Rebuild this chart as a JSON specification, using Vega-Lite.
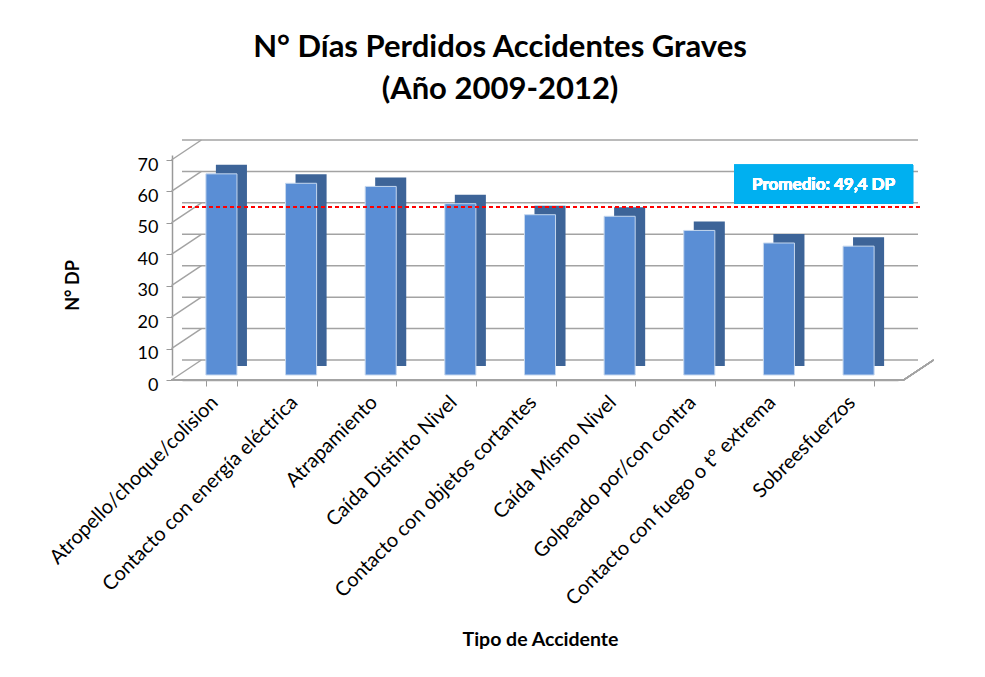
{
  "$schema": "https://vega.github.io/schema/vega-lite/v6.json",
  "autosize": {"type": "none"},
  "padding": {"left": 182, "top": 155, "right": 87, "bottom": 302},
  "width": 716,
  "height": 220,
  "background": "white",
  "config": {"view": {"stroke": null}, "font": "Lato"},
  "title": {
    "text": ["N° Días Perdidos Accidentes Graves", "(Año 2009-2012)"],
    "font": "Lato", "fontSize": 31, "fontWeight": "bold", "color": "#000000",
    "anchor": "middle", "dx": -40, "offset": 33, "lineHeight": 42
  },
  "data": {"values": [
    {"tipo": "Atropello/choque/colision", "dias": 64},
    {"tipo": "Contacto con energía eléctrica", "dias": 61},
    {"tipo": "Atrapamiento", "dias": 60},
    {"tipo": "Caída Distinto Nivel", "dias": 54.5},
    {"tipo": "Contacto con objetos cortantes", "dias": 51},
    {"tipo": "Caída Mismo Nivel", "dias": 50.5},
    {"tipo": "Golpeado por/con contra", "dias": 46},
    {"tipo": "Contacto con fuego o t°  extrema", "dias": 42},
    {"tipo": "Sobreesfuerzos", "dias": 41}
  ]},
  "layer": [
    {
      "data": {"values": [{"v": 0}, {"v": 10}, {"v": 20}, {"v": 30}, {"v": 40}, {"v": 50}, {"v": 60}, {"v": 70}]},
      "mark": {"type": "rule", "color": "#A3A3A3", "strokeWidth": 1.5, "yOffset": -15, "xOffset": 20, "x2Offset": 35},
      "encoding": {
        "y": {
          "field": "v", "type": "quantitative",
          "scale": {"domain": [0, 70], "nice": false},
          "axis": {
            "title": "N° DP", "titleFontSize": 18, "titleFontWeight": "bold", "titleColor": "#000",
            "titleX": -99, "titleY": 130, "titleAlign": "center", "titleBaseline": "middle",
            "values": [0, 10, 20, 30, 40, 50, 60, 70], "tickCount": 8, "grid": false, "labelOverlap": false,
            "labelFontSize": 18, "labelColor": "#000", "labelPadding": 8,
            "labelOffset": 5, "tickOffset": 5, "offset": 10,
            "domainColor": "#999999", "tickColor": "#999999", "tickSize": 6, "domainWidth": 1.5
          }
        }
      }
    },
    {
      "data": {"values": [{"v": 0}, {"v": 10}, {"v": 20}, {"v": 30}, {"v": 40}, {"v": 50}, {"v": 60}, {"v": 70}]},
      "mark": {"type": "rule", "color": "#A3A3A3", "strokeWidth": 1.5, "xOffset": -50, "x2Offset": -20, "yOffset": 5, "y2Offset": -15},
      "encoding": {
        "x": {"datum": "Atropello/choque/colision"},
        "x2": {"datum": "Atropello/choque/colision"},
        "y": {"field": "v", "type": "quantitative"},
        "y2": {"field": "v"}
      }
    },
    {
      "mark": {"type": "rule", "color": "#A3A3A3", "strokeWidth": 1.5, "xOffset": 45, "x2Offset": 75, "yOffset": 5, "y2Offset": -15},
      "encoding": {
        "x": {"datum": "Sobreesfuerzos"},
        "x2": {"datum": "Sobreesfuerzos"},
        "y": {"datum": 0},
        "y2": {"datum": 0}
      }
    },
    {
      "mark": {"type": "rule", "color": "#A3A3A3", "strokeWidth": 1.5, "xOffset": -50, "x2Offset": 45, "yOffset": 5, "y2Offset": 5},
      "encoding": {
        "x": {"datum": "Atropello/choque/colision"},
        "x2": {"datum": "Sobreesfuerzos"},
        "y": {"datum": 0},
        "y2": {"datum": 0}
      }
    },
    {
      "mark": {"type": "bar", "color": "#3D6498", "xOffset": 10, "yOffset": -9, "y2Offset": -9},
      "encoding": {
        "x": {"field": "tipo", "type": "nominal", "sort": null},
        "y": {"field": "dias", "type": "quantitative"}
      }
    },
    {
      "mark": {"type": "bar", "color": "#5A8ED5", "stroke": "#C5D7EE", "strokeWidth": 1},
      "encoding": {
        "x": {
          "field": "tipo", "type": "nominal", "sort": null,
          "scale": {
            "domain": ["Atropello/choque/colision", "Contacto con energía eléctrica", "Atrapamiento", "Caída Distinto Nivel", "Contacto con objetos cortantes", "Caída Mismo Nivel", "Golpeado por/con contra", "Contacto con fuego o t°  extrema", "Sobreesfuerzos"],
            "paddingInner": 0.61, "paddingOuter": 0.3
          },
          "axis": {
            "title": "Tipo de Accidente", "titleFontSize": 19.5, "titleFontWeight": "bold", "titleColor": "#000",
            "titlePadding": 50,
            "labelAngle": -45, "labelFontSize": 20, "labelColor": "#000", "labelPadding": 13, "labelOffset": -7, "labelLimit": 0, "labelOverlap": false,
            "offset": 5, "tickBand": "extent", "domainColor": "#A3A3A3", "tickColor": "#999999", "tickSize": 6, "domainWidth": 1.5
          }
        },
        "y": {"field": "dias", "type": "quantitative"}
      }
    },
    {
      "mark": {"type": "rule", "color": "#FF0000", "strokeWidth": 1.5, "strokeDash": [4, 3], "xOffset": 22, "x2Offset": 42},
      "encoding": {"y": {"datum": 53.5}}
    },
    {
      "mark": {"type": "bar", "color": "#00B0F0", "width": 179, "xOffset": -35},
      "encoding": {
        "x": {"datum": "Sobreesfuerzos"},
        "y": {"datum": 66.9},
        "y2": {"datum": 54.5}
      }
    },
    {
      "mark": {"type": "text", "color": "#FFFFFF", "fontSize": 17, "fontWeight": "bold", "xOffset": -35, "baseline": "middle", "align": "center"},
      "encoding": {
        "x": {"datum": "Sobreesfuerzos"},
        "y": {"datum": 60.6},
        "text": {"value": "Promedio:  49,4 DP"}
      }
    }
  ]
}
